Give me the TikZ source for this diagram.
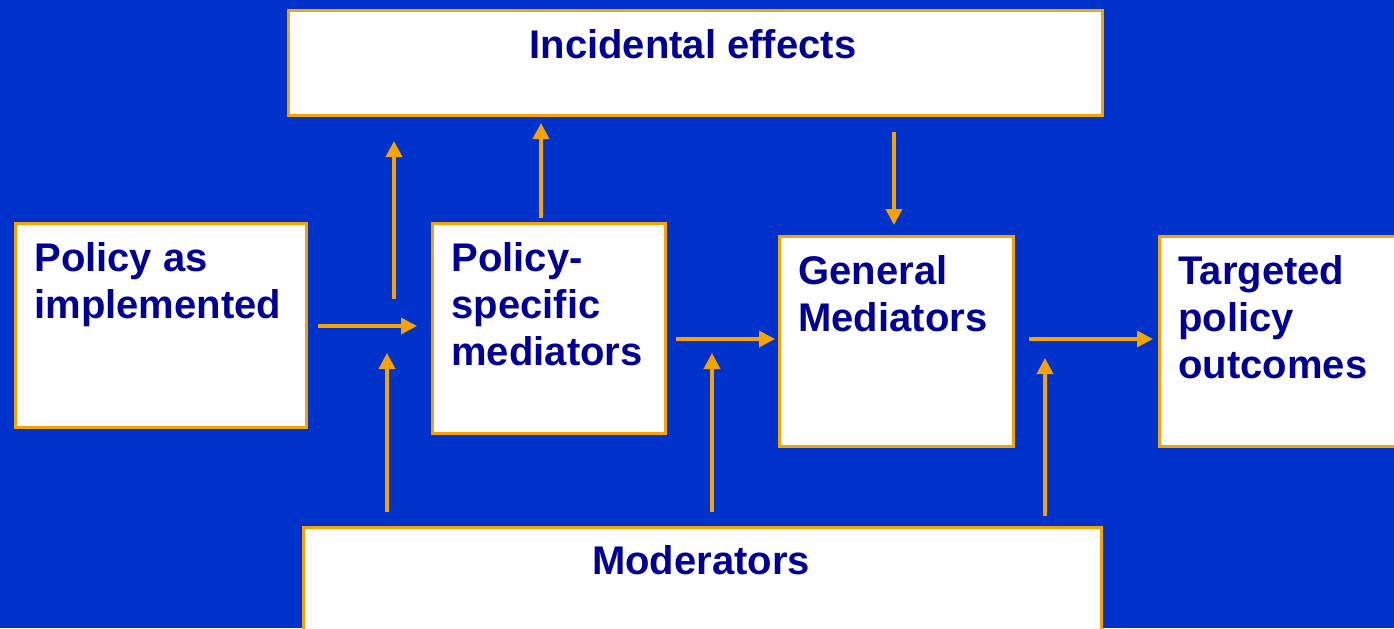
\documentclass[tikz,border=0pt]{standalone}
\usepackage{fontspec}
\setmainfont{Liberation Sans}
\usetikzlibrary{arrows.meta}
\definecolor{bgblue}{RGB}{0,51,204}
\definecolor{navy}{RGB}{0,0,150}
\definecolor{orng}{RGB}{245,163,0}
\tikzset{
  box/.style={draw=orng, line width=1.5pt, fill=white, rectangle, inner sep=0pt, anchor=north west},
  lbl/.style={text=navy, font=\bfseries\fontsize{20}{23.5}\selectfont, inner sep=0pt, align=left, anchor=north west},
  arr/.style={draw=orng, line width=1.8pt, -{Triangle[length=8pt,width=8pt]}},
}
\begin{document}
\begin{tikzpicture}[x=0.5pt,y=-0.5pt]
\useasboundingbox (0,0) rectangle (1394,628);
\clip (0,0) rectangle (1394,628);
\fill[bgblue] (0,0) rectangle (1394,628);
% boxes
\node[box, minimum width=407pt, minimum height=52.5pt] (inc) at (287,9) {};
\node[box, minimum width=145.5pt, minimum height=102pt] (pol) at (14,222) {};
\node[box, minimum width=116.5pt, minimum height=105pt] (psm) at (431,222) {};
\node[box, minimum width=117pt, minimum height=105pt] (gen) at (778,235) {};
\node[box, minimum width=130pt, minimum height=105pt] (tgt) at (1158,235) {};
\node[box, minimum width=399pt, minimum height=60pt] (mod) at (302,526) {};
% texts
\node[lbl, anchor=north] (tinc) at (693,29) {Incidental effects};
\node[lbl] (tpol) at (34,242) {Policy as\\implemented};
\node[lbl] (tpsm) at (451,242) {Policy-\\specific\\mediators};
\node[lbl] (tgen) at (798,255) {General\\Mediators};
\node[lbl] (ttgt) at (1178,255) {Targeted\\policy\\outcomes};
\node[lbl, anchor=north] (tmod) at (701,545) {Moderators};
% helper coordinates
\coordinate (a1s) at (394,299);
\coordinate (a1e) at (394,141);
\coordinate (m1s) at (387,512);
\coordinate (m1e) at (387,353);
\coordinate (m2s) at (712,512);
\coordinate (m2e) at (712,353);
\coordinate (m3s) at (1045,516);
\coordinate (m3e) at (1045,358);
% arrows
\draw[arr] ([xshift=5pt]pol.east |- 0,326) -- ([xshift=-7pt]psm.west |- 0,326);
\draw[arr] (a1s) -- (a1e);
\draw[arr] ([yshift=2pt]psm.north -| 541,0) -- ([yshift=-3pt]inc.south -| 541,0);
\draw[arr] ([yshift=-7.5pt]inc.south -| 894,0) -- ([yshift=5pt]gen.north -| 894,0);
\draw[arr] ([xshift=4.5pt]psm.east |- 0,339) -- ([xshift=-1.5pt]gen.west |- 0,339);
\draw[arr] ([xshift=7pt]gen.east |- 0,339) -- ([xshift=-2.5pt]tgt.west |- 0,339);
\draw[arr] (m1s) -- (m1e);
\draw[arr] (m2s) -- (m2e);
\draw[arr] (m3s) -- (m3e);
\end{tikzpicture}
\end{document}
